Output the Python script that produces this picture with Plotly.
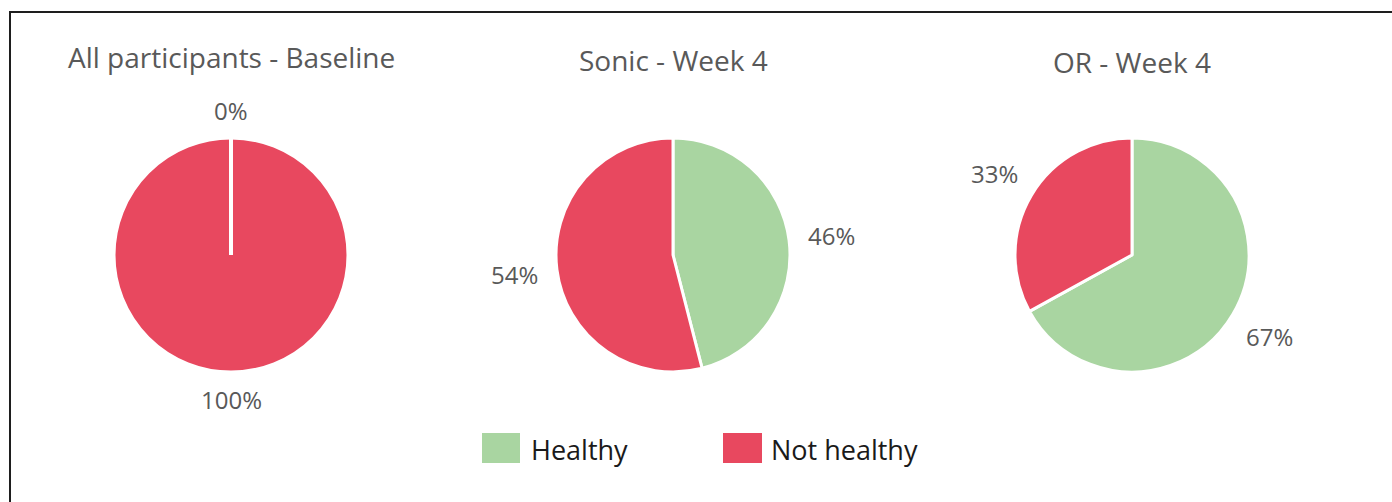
import math
import plotly.graph_objects as go

# ---- data ----
categories = ["Healthy", "Not healthy"]
titles = ["All participants - Baseline", "Sonic - Week 4", "OR - Week 4"]
baseline_values = [0, 100]
sonic_values = [46, 54]
or_values = [67, 33]
series = [baseline_values, sonic_values, or_values]

# ---- style ----
W, H = 1392, 502
colors = ["#A9D5A1", "#E8485F"]
text_gray = "#595959"
font_family = "Open Sans"
centers_px = [231, 673, 1132]
cy_px = 255
r_px = 117
label_size = 24
label_gap = 17

fig = go.Figure()
for i, (vals, cx) in enumerate(zip(series, centers_px)):
    x0 = (cx - r_px) / W
    x1 = (cx + r_px) / W
    y0 = 1 - (cy_px + r_px) / H
    y1 = 1 - (cy_px - r_px) / H
    fig.add_trace(go.Pie(
        labels=categories,
        values=vals,
        sort=False,
        direction="clockwise",
        rotation=0,
        marker=dict(colors=colors, line=dict(color="white", width=3)),
        textinfo="none",
        domain=dict(x=[x0, x1], y=[y0, y1]),
        showlegend=False,
        hoverinfo="label+percent",
    ))
    title_y = [57, 60, 62][i]
    fig.add_annotation(
        x=cx / W, y=1 - title_y / H, xref="paper", yref="paper",
        text=titles[i], showarrow=False,
        font=dict(size=28, color=text_gray, family=font_family),
        xanchor="center", yanchor="middle",
    )

    # outside data labels, placed at each slice's mid-angle (clockwise from top)
    total = sum(vals)
    cum = 0
    for v in vals:
        theta = 2 * math.pi * (cum + v / 2) / total
        cum += v
        txt = f"{v}%"
        w_txt = len(txt) * 0.68 * label_size
        h_txt = 0.85 * label_size
        half = abs(math.sin(theta)) * w_txt / 2 + abs(math.cos(theta)) * h_txt / 2
        d = r_px + label_gap + half
        lx = cx + d * math.sin(theta)
        ly = cy_px - d * math.cos(theta)
        fig.add_annotation(
            x=lx / W, y=1 - ly / H, xref="paper", yref="paper",
            text=txt, showarrow=False, xanchor="center", yanchor="middle",
            font=dict(size=label_size, color=text_gray, family=font_family),
        )
        # white separator for a zero-value slice
        if v == 0:
            fig.add_shape(type="line", xref="paper", yref="paper",
                          x0=cx / W, y0=1 - cy_px / H,
                          x1=(cx + r_px * math.sin(theta)) / W,
                          y1=1 - (cy_px - r_px * math.cos(theta)) / H,
                          line=dict(color="white", width=4))

# legend (custom large swatches)
legend_items = [(482, 520, 529), (723, 762, 769)]
for (sx0, sx1, tx), name, col in zip(legend_items, categories, colors):
    fig.add_shape(type="rect", xref="paper", yref="paper",
                  x0=sx0 / W, x1=sx1 / W, y0=1 - 463 / H, y1=1 - 433 / H,
                  fillcolor=col, line=dict(width=0))
    fig.add_annotation(x=tx / W, y=1 - 449 / H, xref="paper", yref="paper",
                       text=name, showarrow=False, xanchor="left", yanchor="middle",
                       font=dict(size=27, color="#1a1a1a", family=font_family))

# frame lines (top and left)
fig.add_shape(type="line", xref="paper", yref="paper",
              x0=9 / W, x1=1, y0=1 - 12 / H, y1=1 - 12 / H,
              line=dict(color="#1e1e1e", width=2))
fig.add_shape(type="line", xref="paper", yref="paper",
              x0=10 / W, x1=10 / W, y0=1 - 11 / H, y1=0,
              line=dict(color="#1e1e1e", width=2))

fig.update_layout(
    width=W, height=H,
    margin=dict(l=0, r=0, t=0, b=0),
    paper_bgcolor="white",
    plot_bgcolor="white",
    font=dict(family=font_family, color=text_gray),
)

fig.write_html("out.html", config={"displayModeBar": False})
